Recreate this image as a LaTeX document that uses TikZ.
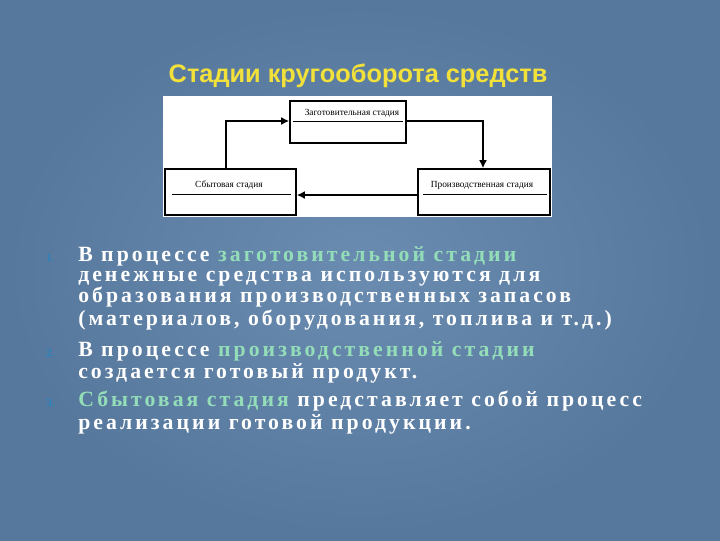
\documentclass[tikz,border=0pt]{standalone}
\usepackage{fontspec}
\setmainfont{Liberation Serif}
\newfontfamily\titlefont{Liberation Sans}
\newfontfamily\bodyfont[LetterSpace=14]{Liberation Serif}
\begin{document}
\begin{tikzpicture}[x=0.75pt,y=-0.75pt,
  stagebox/.style={draw=black,line width=1.2pt,fill=white},
  conn/.style={line width=1.2pt,-{Latex[length=6pt,width=6pt]}},
  stagelabel/.style={font=\fontsize{7}{8}\selectfont,inner sep=0pt},
  bodyline/.style={anchor=base west,inner sep=0pt,text=white,font=\bodyfont\bfseries\fontsize{16.3}{17}\selectfont},
  numlabel/.style={anchor=base west,inner sep=0pt,text=cyan!70!blue,font=\fontsize{8}{9}\selectfont}]
\usetikzlibrary{arrows.meta}
\definecolor{bgblue}{HTML}{5E82AA}
\definecolor{hl}{HTML}{93DDB8}
\definecolor{ttl}{HTML}{F2E13A}
\shade[inner color=bgblue!92!white,outer color=bgblue!92!black] (0,0) rectangle (720,540);
\useasboundingbox (0,0) rectangle (720,540);
\node[text=ttl,font=\titlefont\bfseries\fontsize{19}{22}\selectfont] (title) at (358,76) {Стадии кругооборота средств};
\node[fill=white,minimum width=389*0.75pt,minimum height=121*0.75pt,inner sep=0pt] (panel) at (357.5,156.5) {};
\node[stagebox,minimum width=116*0.75pt,minimum height=42*0.75pt] (z) at (348,122) {};
\node[stagebox,minimum width=131*0.75pt,minimum height=46*0.75pt] (s) at (230.5,192) {};
\node[stagebox,minimum width=132*0.75pt,minimum height=46*0.75pt] (p) at (484,192) {};
\draw[line width=0.5pt] (293,121) -- (403,121);
\draw[line width=0.5pt] (172,194) -- (291,194);
\draw[line width=0.5pt] (423,194) -- (547,194);
\node[stagelabel] (zl) at (352,113) {Заготовительная стадия};
\node[stagelabel] (sl) at (229,185) {Сбытовая стадия};
\node[stagelabel] (pl) at (482,185) {Производственная стадия};
\draw[conn] (z.east |- 0,121) -| (p.north -| 483,0);
\draw[conn] (p.west |- 0,195) -- (s.east |- 0,195);
\draw[conn] (s.north -| 226,0) |- (z.west |- 0,121);
\node[numlabel] (n1) at (46,261) {1.};
\node[numlabel] (n2) at (46,356) {2.};
\node[numlabel] (n3) at (46,406) {3.};
\node[bodyline] (l1) at (78,261) {В процессе \textcolor{hl}{заготовительной стадии}};
\node[bodyline] (l2) at (78,281) {денежные средства используются для};
\node[bodyline] (l3) at (78,302) {образования производственных запасов};
\node[bodyline] (l4) at (78,325) {(материалов, оборудования, топлива и т.д.)};
\node[bodyline] (l5) at (78,356) {В процессе \textcolor{hl}{производственной стадии}};
\node[bodyline] (l6) at (78,378) {создается готовый продукт.};
\node[bodyline] (l7) at (78,406) {\textcolor{hl}{Сбытовая стадия} представляет собой процесс};
\node[bodyline] (l8) at (78,429) {реализации готовой продукции.};
\end{tikzpicture}
\end{document}
